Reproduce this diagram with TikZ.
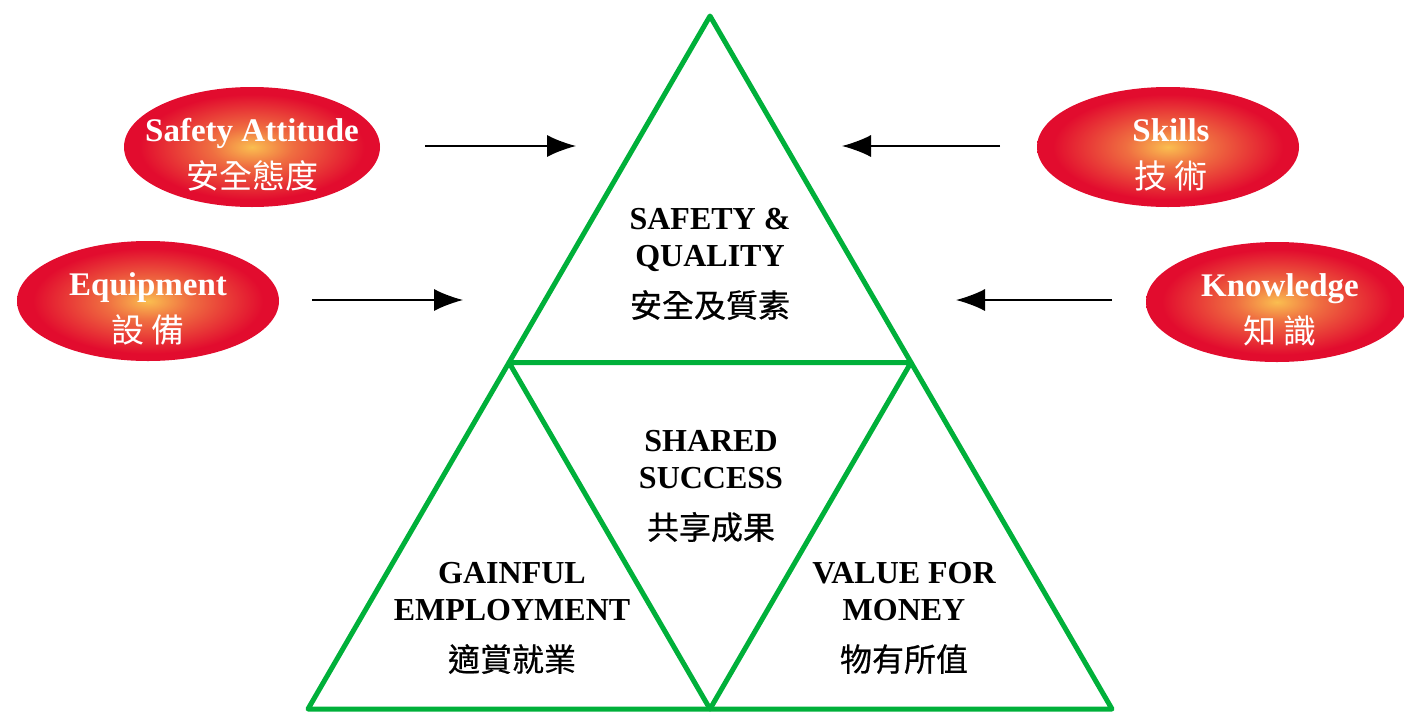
\documentclass[tikz,border=0pt]{standalone}
\usepackage{fontspec}
\setmainfont{Liberation Serif}
\newfontfamily\cjk{Noto Sans CJK TC}
\newfontfamily\cjkb[FakeBold=0.6]{Noto Sans CJK TC}
\usepackage{tikz}
\usetikzlibrary{arrows.meta,calc,shapes.geometric}
\definecolor{ovalred}{RGB}{226,12,46}
\definecolor{ovalglow}{RGB}{250,190,80}
\colorlet{ovalmid}{ovalglow!55!ovalred}
\pgfdeclareradialshading{glowshade}{\pgfpoint{0bp}{0bp}}{%
  color(0bp)=(ovalglow); color(8bp)=(ovalmid); color(22bp)=(ovalred); color(50bp)=(ovalred)}

\begin{document}
\begin{tikzpicture}[x=1pt,y=-1pt,
    oval/.style={ellipse, minimum width=262pt, minimum height=120pt, inner sep=0pt,
      shading=glowshade},
    ovaltext/.style={text=white, align=center, inner sep=0pt,
      font=\bfseries\fontsize{33}{40}\selectfont},
    tritext/.style={align=center, inner sep=0pt,
      font=\bfseries\fontsize{32}{37}\selectfont},
    tri/.style={draw=trigreen, line width=5pt, line join=round},
    arr/.style={draw=black, line width=1.6pt, -{Latex[length=29pt,width=22pt]}}]
      \definecolor{trigreen}{RGB}{0,176,58}
      \useasboundingbox (0,0) rectangle (1404,715);

      \def\dy{8}
      \node[oval, minimum width=256pt] (sa) at (252,147) {};
      \node[ovaltext] (sa-t) at ($(sa)+(0,\dy)$) {Safety Attitude\\[7pt]{\cjk\mdseries 安全態度}};
      \node[oval] (sk) at (1168,147) {};
      \node[ovaltext] (sk-t) at ($(sk)+(3,\dy)$) {Skills\\[7pt]{\cjk\mdseries 技 術}};
      \node[oval] (eq) at (148,301) {};
      \node[ovaltext] (eq-t) at ($(eq)+(0,\dy)$) {Equipment\\[7pt]{\cjk\mdseries 設 備}};
      \node[oval] (kn) at (1277,302) {};
      \node[ovaltext] (kn-t) at ($(kn)+(3,\dy)$) {Knowledge\\[7pt]{\cjk\mdseries 知 識}};

      \coordinate (sa-a) at (425,146);
      \coordinate (sa-b) at (576,146);
      \coordinate (eq-a) at (312,300);
      \coordinate (eq-b) at (463,300);
      \coordinate (sk-a) at (1000,146);
      \coordinate (sk-b) at (842,146);
      \coordinate (kn-a) at (1112,300);
      \coordinate (kn-b) at (956,300);
      \draw[arr] (sa-a) -- (sa-b);
      \draw[arr] (eq-a) -- (eq-b);
      \draw[arr] (sk-a) -- (sk-b);
      \draw[arr] (kn-a) -- (kn-b);

      \coordinate (top) at (710,16);
      \coordinate (bl) at (308,709);
      \coordinate (br) at (1112,709);
      \coordinate (ml) at ($(top)!0.5!(bl)$);
      \coordinate (mr) at ($(top)!0.5!(br)$);
      \coordinate (bm) at ($(bl)!0.5!(br)$);
      \draw[tri] (top) -- (bl) -- (br) -- cycle;
      \draw[tri] (ml) -- (mr) -- (bm) -- cycle;

      \node[tritext] (sq) at (710,264) {SAFETY \&\\QUALITY\\[14pt]{\cjkb\mdseries 安全及質素}};
      \node[tritext] (ss) at (711,486) {SHARED\\SUCCESS\\[14pt]{\cjkb\mdseries 共享成果}};
      \node[tritext] (ge) at (512,618) {GAINFUL\\EMPLOYMENT\\[14pt]{\cjkb\mdseries 適賞就業}};
      \node[tritext] (vm) at (904,618) {VALUE FOR\\MONEY\\[14pt]{\cjkb\mdseries 物有所值}};
\end{tikzpicture}
\end{document}
